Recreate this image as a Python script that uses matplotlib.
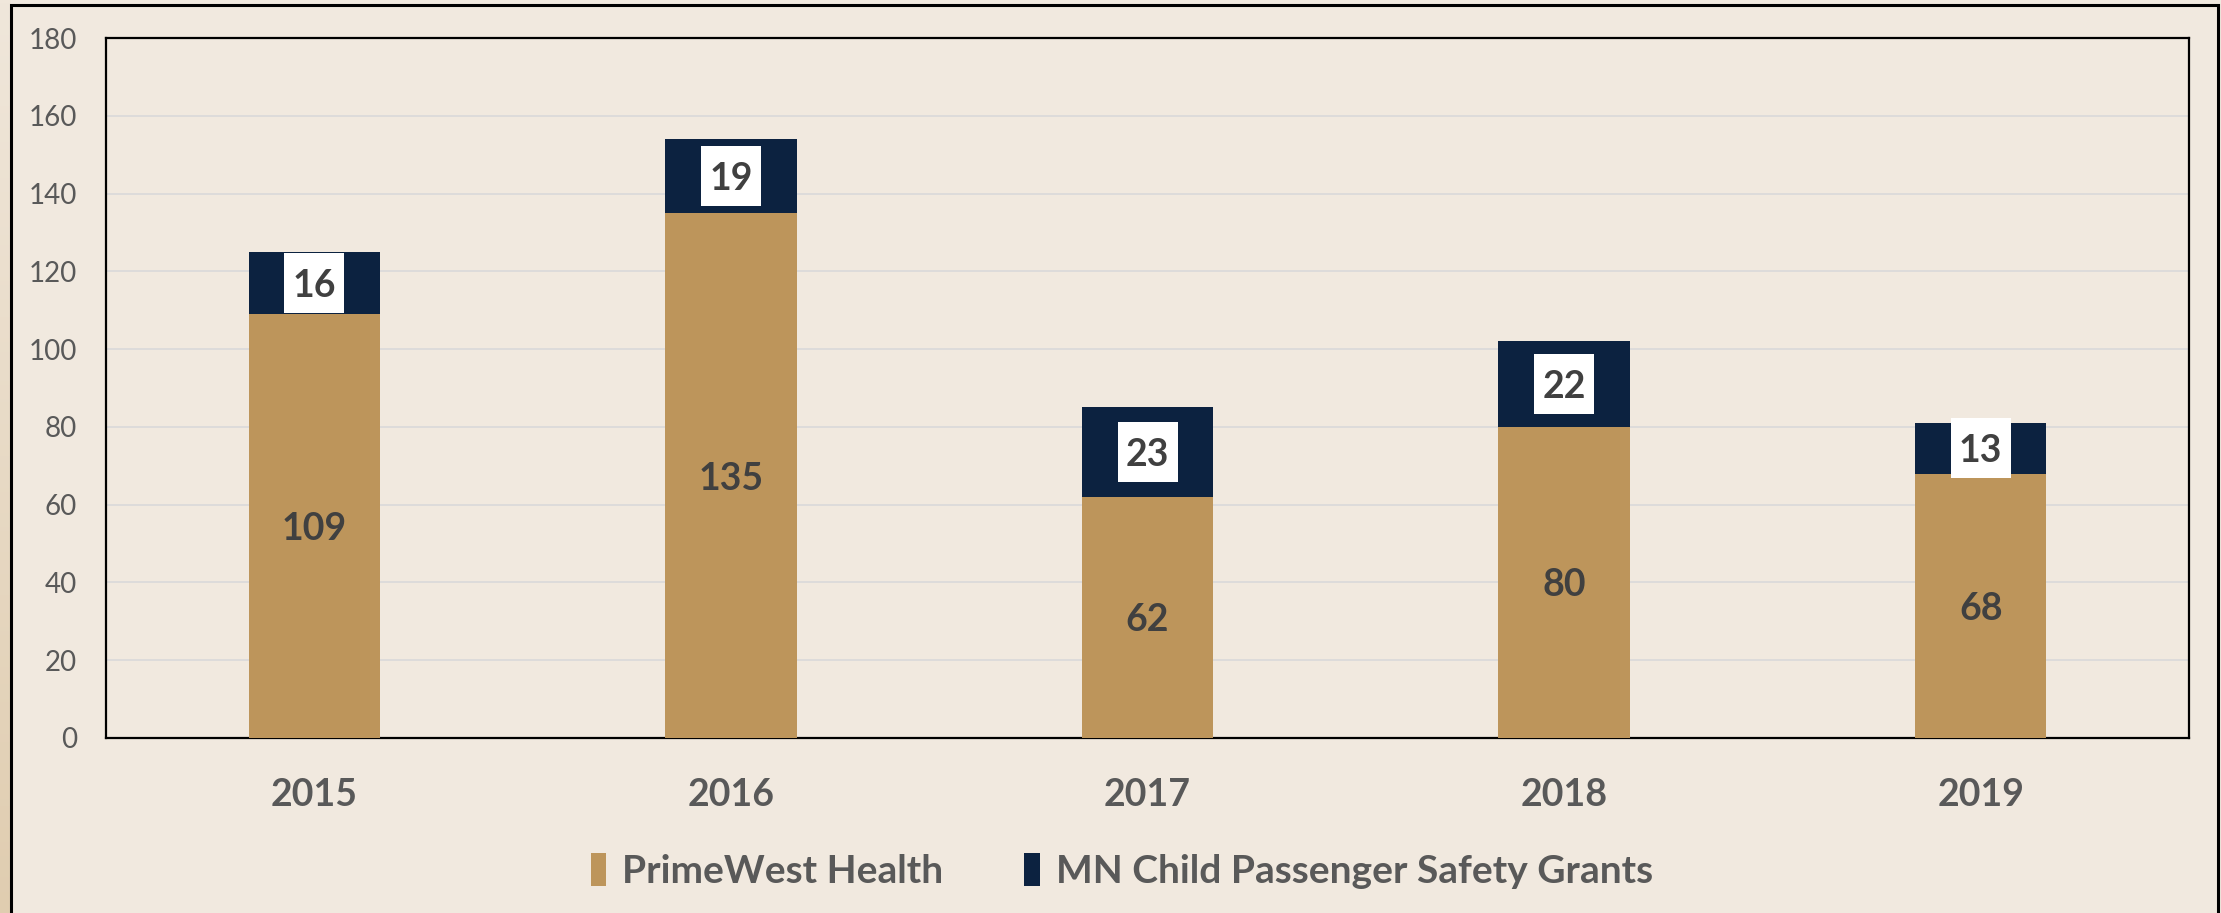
import matplotlib
matplotlib.use('Agg')
from matplotlib import pyplot as plt
from matplotlib.patches import Rectangle
from matplotlib.transforms import ScaledTranslation
import numpy as np

years = ['2015', '2016', '2017', '2018', '2019']
primewest = [109, 135, 62, 80, 68]
mn_grants = [16, 19, 23, 22, 13]

tan = '#BD955B'
navy = '#0C2240'
bg = '#F1E9DF'
txt_gray = '#595959'
lbl_dark = '#404040'

plt.rcParams['font.family'] = ['Lato', 'DejaVu Sans']

fig = plt.figure(figsize=(22.21, 9.13), dpi=100)
fig.patch.set_facecolor(bg)

# shaded strip down the left side
strip = fig.add_axes([0, 0, 11 / 2221, 1])
grad = np.linspace(0, 1, 256).reshape(-1, 1)
strip.imshow(grad, aspect='auto', cmap=matplotlib.colors.LinearSegmentedColormap.from_list(
    'strip', ['#F0E7DB', '#E0CDB0']), extent=[0, 1, 1, 0])
strip.axis('off')

# outer frame
fig.patches.append(Rectangle((11 / 2221, -0.05), 2207 / 2221, 1 - 5 / 913 + 0.05,
                             transform=fig.transFigure, fill=False,
                             edgecolor='black', linewidth=2.2, zorder=5))

ax = fig.add_axes([106 / 2221, 1 - 738 / 913, 2083 / 2221, 700 / 913])
ax.set_facecolor(bg)

x = np.arange(len(years))
w = 0.315
b1 = ax.bar(x, primewest, w, color=tan, label='PrimeWest Health', zorder=3)
b2 = ax.bar(x, mn_grants, w, bottom=primewest, color=navy,
            label='MN Child Passenger Safety Grants', zorder=3)

for i in range(len(years)):
    ax.text(x[i], primewest[i] / 2, str(primewest[i]), ha='center',
            va='center_baseline', fontsize=27, fontweight='bold',
            color=lbl_dark, zorder=5)
    yc = primewest[i] + mn_grants[i] / 2
    # fixed-size white label box (0.6 in square) centred on the segment
    box_tr = fig.dpi_scale_trans + ScaledTranslation(x[i], yc, ax.transData)
    ax.add_patch(Rectangle((-0.3, -0.3), 0.6, 0.6, transform=box_tr,
                           facecolor='white', edgecolor='none', zorder=4))
    ax.text(x[i], yc, str(mn_grants[i]), ha='center', va='center_baseline',
            fontsize=27, fontweight='bold', color=lbl_dark, zorder=5)

ax.set_xlim(-0.5, len(years) - 0.5)
ax.set_ylim(0, 180)
ax.set_yticks(np.arange(0, 181, 20))
ax.set_xticks(x)
ax.set_xticklabels(years)
ax.tick_params(axis='y', length=0, pad=21, labelsize=20, labelcolor=txt_gray)
ax.tick_params(axis='x', length=0, pad=29, labelsize=27, labelcolor=txt_gray)
for lab in ax.get_xticklabels():
    lab.set_fontweight('bold')

ax.grid(axis='y', color='#D9D9D9', linewidth=1.2, zorder=0)
ax.set_axisbelow(True)
for s in ax.spines.values():
    s.set_color('black')
    s.set_linewidth(1.6)

leg = fig.legend(handles=[b1, b2], loc='center', bbox_to_anchor=(0.505, 0.046),
                 ncol=2, frameon=False, fontsize=28, handlelength=0.4,
                 handleheight=0.9, handletextpad=0.4, columnspacing=2.1)
for t in leg.get_texts():
    t.set_color(txt_gray)
    t.set_fontweight('bold')

fig.savefig('out.png', dpi=100, facecolor=fig.get_facecolor())
